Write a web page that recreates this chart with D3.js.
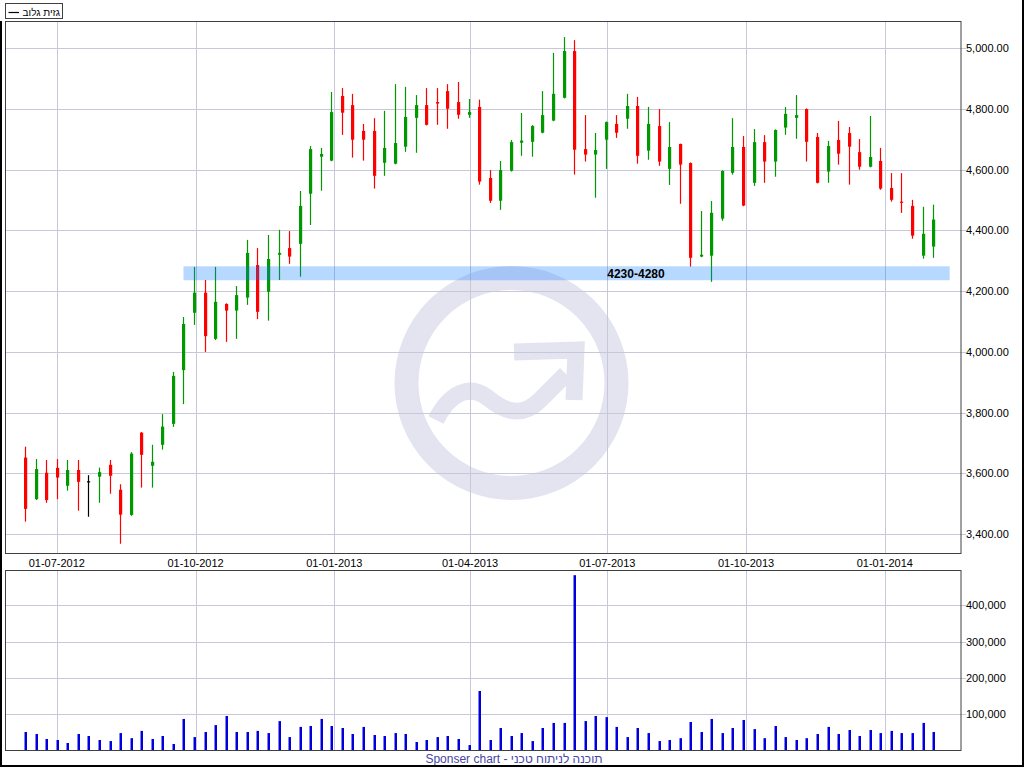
<!DOCTYPE html>
<html><head><meta charset="utf-8">
<script src="https://cdn.jsdelivr.net/npm/d3@7/dist/d3.min.js"></script>
<style>
html,body{margin:0;padding:0;background:#fff;}
svg{display:block;}
text{font-family:"Liberation Sans",Arial,sans-serif;}
</style></head>
<body>
<svg id="c" width="1024" height="768"></svg>
<script>
// ---- DATA ----
const firstWeek = "2012-06-10";   // weekly candles (Sunday-start weeks)
const open  = [3652,3515,3602,3618,3559,3611,3574,3589,3628,3546,3463,3734,3625,3694,3763,3940,4129,4195,4043,4158,4136,4179,4286,4198,4320,4342,4356,4521,4643,4630,4843,4813,4728,4728,4623,4620,4676,4771,4813,4823,4859,4823,4781,4807,4573,4498,4597,4689,4692,4722,4762,4837,4991,4668,4650,4699,4751,4768,4810,4663,4744,4603,4685,4622,4314,4317,4439,4590,4675,4557,4691,4627,4739,4771,4800,4708,4594,4698,4721,4658,4610,4629,4540,4495,4481,4317,4347];
const high  = [3688,3647,3644,3647,3644,3644,3594,3619,3644,3564,3670,3736,3694,3795,3934,4115,4280,4237,4280,4160,4217,4369,4342,4385,4402,4398,4530,4678,4672,4856,4869,4850,4751,4770,4794,4882,4873,4846,4869,4869,4882,4889,4833,4831,4599,4629,4698,4787,4747,4859,4985,5037,5027,4780,4721,4759,4780,4850,4840,4807,4800,4757,4686,4624,4464,4497,4598,4770,4711,4734,4714,4733,4807,4846,4802,4721,4695,4761,4741,4701,4777,4672,4589,4589,4501,4478,4485];
const low   = [3441,3512,3503,3515,3543,3477,3457,3503,3533,3368,3460,3553,3553,3678,3753,3828,4089,4000,4039,4033,4043,4155,4108,4103,4237,4290,4248,4418,4531,4628,4715,4640,4630,4538,4580,4618,4659,4656,4746,4748,4735,4768,4771,4551,4491,4468,4594,4646,4643,4720,4760,4835,4584,4627,4508,4603,4705,4735,4620,4633,4613,4550,4488,4281,4312,4231,4432,4584,4480,4547,4557,4577,4715,4702,4627,4555,4557,4617,4551,4600,4608,4534,4495,4458,4373,4307,4310];
const close = [3483,3614,3512,3586,3611,3572,3574,3604,3592,3464,3665,3661,3638,3754,3921,4092,4195,4052,4165,4136,4187,4326,4132,4306,4326,4314,4481,4668,4652,4790,4788,4699,4699,4580,4672,4688,4774,4813,4748,4818,4801,4781,4790,4561,4498,4599,4691,4696,4744,4780,4850,4991,4666,4650,4665,4757,4722,4810,4646,4751,4627,4675,4617,4310,4320,4458,4596,4675,4482,4691,4627,4731,4784,4780,4692,4557,4678,4653,4676,4610,4642,4538,4501,4492,4383,4389,4436];
const volume= [51000,45500,31700,28900,20700,45500,40000,28900,26000,48000,34000,54000,31700,40000,18000,87000,37000,51000,70000,95000,51000,51000,54000,48000,81000,37000,65000,67500,87000,67500,62000,45500,65000,42700,40000,48000,45500,23400,28900,37000,40000,31700,15000,164000,28900,62000,40000,48000,26000,62000,76000,76000,483000,81000,95000,92000,65000,37000,62000,48000,26000,28900,34000,78500,51000,87000,48000,62000,84000,59000,34000,67500,37000,28900,34000,45500,65000,45500,56500,40000,56500,48000,54000,48000,48000,76000,51000];
const dateTicks  = ["2012-07-01","2012-10-01","2013-01-01","2013-04-01","2013-07-01","2013-10-01","2014-01-01"];
const priceTicks = [3400,3600,3800,4000,4200,4400,4600,4800,5000];
const volTicks   = [100000,200000,300000,400000];
const zoneLow = 4236, zoneHigh = 4282, zoneStart = "2012-09-23", zoneEnd = "2014-02-13", zoneLabelAt = "2013-07-20";
const zoneLabel = "4230-4280";
const legendLabel = "גזית גלוב";
const footer = "Sponser chart - תוכנה לניתוח טכני";

// ---- SETUP ----
const svg = d3.select("#c");
const parse = d3.utcParse("%Y-%m-%d");
const t0 = parse(firstWeek);
const dates = d3.utcSunday.range(t0, d3.utcSunday.offset(t0, open.length));
const L = 5.5, R = 961, T1 = 21.5, B1 = 553.5, T2 = 570.5, B2 = 750.5;
const x = d3.scaleUtc().domain([Date.UTC(2012,4,28), Date.UTC(2014,1,20,12)]).range([L, R]);
const y = d3.scaleLinear().domain([3337.6, 5090]).range([553, 21]);
const yv = d3.scaleLinear().domain([0, 496500]).range([750.5, 570.3]);
const grid = "#c8c8da";
const fmtDate = d3.utcFormat("%d-%m-%Y");

svg.append("rect").attr("width",1024).attr("height",768).attr("fill","#fff");

// watermark
const wm = svg.append("g").attr("fill","none").attr("stroke","#e4e4f1");
wm.append("circle").attr("cx",511.5).attr("cy",383).attr("r",105).attr("stroke-width",24);
wm.append("path").attr("d","M436,420 C450,392 470,384 488,398 C505,412 522,418 540,400 L566,374").attr("stroke-width",17).attr("stroke-linecap","butt");
wm.append("path").attr("d","M514,352 L576,350 L574,400").attr("stroke-width",17).attr("stroke-linejoin","miter");

// panel grids
function panelGrid(top, bottom, scale, ticks){
  const g = svg.append("g");
  dateTicks.forEach(d=>{
    const xx = Math.round(x(parse(d)))+0.5;
    g.append("line").attr("x1",xx).attr("x2",xx).attr("y1",top).attr("y2",bottom).attr("stroke",grid);
  });
  ticks.forEach(v=>{
    const yy = Math.round(scale(v))+0.5;
    g.append("line").attr("x1",L).attr("x2",R+5).attr("y1",yy).attr("y2",yy).attr("stroke",grid);
  });
}
panelGrid(T1,B1,y,priceTicks);
panelGrid(T2,B2,yv,volTicks);

// candles
const cg = svg.append("g");
dates.forEach((d,i)=>{
  const cx = Math.round(x(d));
  const o=open[i], c=close[i];
  const col = c>o ? "#009900" : (c<o ? "#ff0000" : "#000000");
  cg.append("line").attr("x1",cx+0.5).attr("x2",cx+0.5).attr("y1",y(high[i])).attr("y2",y(low[i])).attr("stroke",col).attr("stroke-width",1.2);
  const yt = y(Math.max(o,c)), yb = y(Math.min(o,c));
  cg.append("rect").attr("x",cx-1).attr("width",3.2).attr("y",yt).attr("height",Math.max(1.2,yb-yt)).attr("fill",col);
});

// volume bars
const vg = svg.append("g");
dates.forEach((d,i)=>{
  const cx = Math.round(x(d));
  vg.append("rect").attr("x",cx-0.5).attr("width",2.5).attr("y",yv(volume[i])).attr("height",yv(0)-yv(volume[i])).attr("fill","#0000dd");
});

// support zone
svg.append("rect").attr("x",x(parse(zoneStart))).attr("width",x(parse(zoneEnd))-x(parse(zoneStart)))
  .attr("y",y(zoneHigh)).attr("height",y(zoneLow)-y(zoneHigh)).attr("fill","rgba(0,120,255,0.28)");
svg.append("text").attr("x",x(parse(zoneLabelAt))).attr("y",y((zoneLow+zoneHigh)/2)+4.5)
  .attr("text-anchor","middle").attr("font-weight","bold").attr("font-size",12).attr("fill","#000").text(zoneLabel);

// panel borders
[[T1,B1],[T2,B2]].forEach(([t,b])=>{
  svg.append("rect").attr("x",L).attr("y",t).attr("width",R-L).attr("height",b-t).attr("fill","none").attr("stroke","#404040");
});

// axis labels
const ax = svg.append("g").attr("font-size",11).attr("fill","#000");
dateTicks.forEach(d=>{
  ax.append("text").attr("x",x(parse(d))).attr("y",567).attr("text-anchor","middle").text(fmtDate(parse(d)));
});
const fmtP = d3.format(",.2f"), fmtV = d3.format(",");
priceTicks.forEach(v=>{
  ax.append("text").attr("x",966).attr("y",Math.round(y(v))+4).text(fmtP(v));
});
volTicks.forEach(v=>{
  ax.append("text").attr("x",966).attr("y",Math.round(yv(v))+4).text(fmtV(v));
});

// legend
svg.append("rect").attr("x",5.5).attr("y",3.5).attr("width",57).attr("height",15).attr("fill","#fff").attr("stroke","#404040");
svg.append("line").attr("x1",8.5).attr("x2",19).attr("y1",12.5).attr("y2",12.5).attr("stroke","#000").attr("stroke-width",1.2);
const lt = svg.append("text").attr("x",30).attr("y",15.5).attr("font-size",10).attr("fill","#000").text(legendLabel);
const bb = lt.node().getBBox();
lt.attr("x", 30 + (60 - (bb.x + bb.width)));

// footer
svg.append("text").attr("x",514).attr("y",763).attr("text-anchor","middle").attr("font-size",12).attr("fill","#4646a4").text(footer);

// outer frame
svg.append("line").attr("x1",1).attr("x2",1).attr("y1",21).attr("y2",766).attr("stroke","#000").attr("stroke-width",2);
svg.append("line").attr("x1",1023).attr("x2",1023).attr("y1",0).attr("y2",766).attr("stroke","#000").attr("stroke-width",2);
svg.append("line").attr("x1",0).attr("x2",1024).attr("y1",766).attr("y2",766).attr("stroke","#000").attr("stroke-width",2);
</script>
</body></html>
